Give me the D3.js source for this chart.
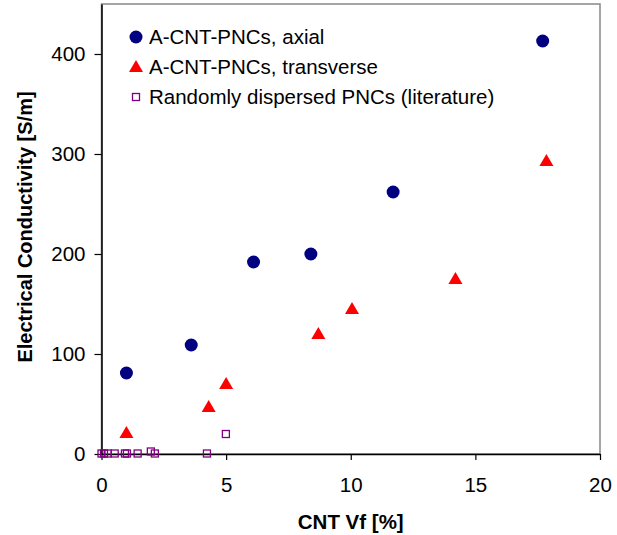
<!DOCTYPE html>
<html>
<head>
<meta charset="utf-8">
<script src="https://cdn.jsdelivr.net/npm/d3@7"></script>
<style>
  body { margin: 0; background: #fff; }
  text { font-family: "Liberation Sans", Arial, sans-serif; }
</style>
</head>
<body>
<div id="chart"></div>
<script>
// data
var axialVf = [1.0, 3.6, 6.1, 8.4, 11.7, 17.7];
var axialSig = [81, 109, 192, 200, 262, 413];

var transVf = [1.0, 4.3, 5.0, 8.7, 10.05, 14.2, 17.85];
var transSig = [21, 47, 70, 120, 145, 175, 293];

var randVf = [0, 0.1, 0.25, 0.53, 0.94, 1.02, 1.45, 1.98, 2.14, 4.23, 4.99];
var randSig = [0.5, 0.5, 0.5, 0.5, 0.5, 0.5, 0.5, 2.5, 0.5, 0.5, 20];

var xTicks = [0, 5, 10, 15, 20];
var yTicks = [0, 100, 200, 300, 400];

var seriesNames = ["A-CNT-PNCs, axial", "A-CNT-PNCs, transverse", "Randomly dispersed PNCs (literature)"];

var svgWidth = 617;
var svgHeight = 535;
var fontSize = "20.5px";

var margin = { top: 4, right: 17, bottom: 81, left: 101.5 };
var width = svgWidth - margin.left - margin.right;
var height = svgHeight - margin.top - margin.bottom;

var svg = d3.select("#chart")
  .append("svg")
  .attr("width", svgWidth)
  .attr("height", svgHeight);

var chartGroup = svg.append("g")
  .attr("transform", `translate(${margin.left}, ${margin.top})`);

var xScale = d3.scaleLinear().domain([0, 20]).range([0, width]);
var yScale = d3.scaleLinear().domain([0, 450]).range([height, 0]);

// plot frame (grey top/right)
chartGroup.append("rect")
  .attr("x", 0).attr("y", 0)
  .attr("width", width).attr("height", height)
  .attr("fill", "none")
  .attr("stroke", "#888")
  .attr("stroke-width", 1.5);

// axes
var bottomAxis = d3.axisBottom(xScale).tickValues(xTicks).tickSize(6).tickSizeOuter(0);
var leftAxis = d3.axisLeft(yScale).tickValues(yTicks).tickSize(7).tickSizeOuter(0);

var xAxisG = chartGroup.append("g")
  .attr("transform", `translate(0, ${height})`)
  .call(bottomAxis);

var yAxisG = chartGroup.append("g")
  .call(leftAxis);

[xAxisG, yAxisG].forEach(function(g) {
  g.select(".domain").attr("stroke", "#000").attr("stroke-width", 1.5);
  g.selectAll(".tick line").attr("stroke", "#000").attr("stroke-width", 1.2);
  g.selectAll(".tick text")
    .attr("font-size", fontSize)
    .attr("fill", "#000")
    .style("font-family", "'Liberation Sans', Arial, sans-serif");
});
xAxisG.selectAll(".tick text").attr("y", 23).attr("dy", "0.71em");
yAxisG.selectAll(".tick text").attr("x", -16);

// random squares
var randData = randVf.map(function(v, i) { return { x: v, y: randSig[i] }; });
chartGroup.selectAll(".rand")
  .data(randData)
  .enter()
  .append("rect")
  .attr("class", "rand")
  .attr("x", d => xScale(d.x) - 3.5)
  .attr("y", d => yScale(d.y) - 3.5)
  .attr("width", 7)
  .attr("height", 7)
  .attr("fill", "none")
  .attr("stroke", "#800080")
  .attr("stroke-width", 1.3);

// transverse triangles
var triangle = d3.symbol().type(d3.symbolTriangle).size(85);
var transData = transVf.map(function(v, i) { return { x: v, y: transSig[i] }; });
chartGroup.selectAll(".trans")
  .data(transData)
  .enter()
  .append("path")
  .attr("class", "trans")
  .attr("d", triangle)
  .attr("transform", d => `translate(${xScale(d.x)}, ${yScale(d.y) + 1})`)
  .attr("fill", "#ff0000");

// axial circles
var axialData = axialVf.map(function(v, i) { return { x: v, y: axialSig[i] }; });
chartGroup.selectAll(".axial")
  .data(axialData)
  .enter()
  .append("circle")
  .attr("class", "axial")
  .attr("cx", d => xScale(d.x))
  .attr("cy", d => yScale(d.y))
  .attr("r", 6.5)
  .attr("fill", "#000080");

// legend
var legend = svg.append("g");
var rowY = [37, 67, 97];
seriesNames.forEach(function(name, i) {
  var mx = 136;
  if (i === 0) {
    legend.append("circle").attr("cx", mx).attr("cy", rowY[i]).attr("r", 6.5).attr("fill", "#000080");
  } else if (i === 1) {
    legend.append("path").attr("d", triangle)
      .attr("transform", `translate(${mx}, ${rowY[i] + 1})`).attr("fill", "#ff0000");
  } else {
    legend.append("rect").attr("x", mx - 3.5).attr("y", rowY[i] - 3.5)
      .attr("width", 7).attr("height", 7)
      .attr("fill", "none").attr("stroke", "#800080").attr("stroke-width", 1.3);
  }
  legend.append("text")
    .attr("x", 149)
    .attr("y", rowY[i])
    .attr("dy", "0.35em")
    .attr("font-size", fontSize)
    .attr("fill", "#000")
    .text(name);
});

// axis titles
svg.append("text")
  .attr("transform", `translate(32, ${margin.top + height / 2 - 2}) rotate(-90)`)
  .attr("text-anchor", "middle")
  .attr("font-size", "20px")
  .attr("font-weight", "bold")
  .text("Electrical Conductivity [S/m]");

svg.append("text")
  .attr("x", margin.left + width / 2)
  .attr("y", 529)
  .attr("text-anchor", "middle")
  .attr("font-size", "20.5px")
  .attr("font-weight", "bold")
  .text("CNT Vf [%]");
</script>
</body>
</html>
